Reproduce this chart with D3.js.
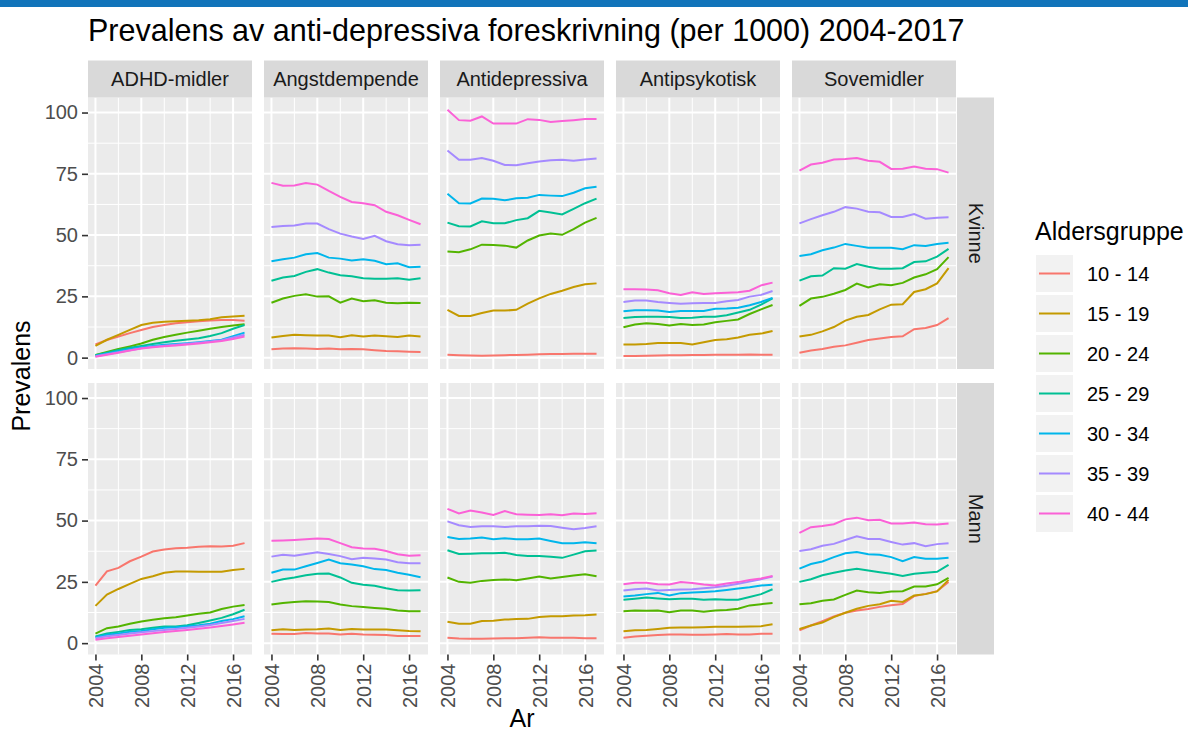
<!DOCTYPE html>
<html>
<head>
<meta charset="utf-8">
<script src="https://d3js.org/d3.v7.min.js"></script>
<style>
  body { margin: 0; background: #ffffff; }
  svg { display: block; font-family: "Liberation Sans", Arial, sans-serif; }
  .tick text { fill: #4d4d4d; font-size: 20px; }
  .tick line { stroke: #333333; stroke-width: 1.6; }
  .domain { display: none; }
</style>
</head>
<body>
<svg id="chart" width="1188" height="733"></svg>
<script>
  const years = d3.range(2004, 2018);
  const groups = ["10 - 14", "15 - 19", "20 - 24", "25 - 29", "30 - 34", "35 - 39", "40 - 44"];
  const colors = ["#F8766D", "#C49A00", "#53B400", "#00C094", "#00B6EB", "#A58AFF", "#FB61D7"];
  const categories = ["ADHD-midler", "Angstdempende", "Antidepressiva", "Antipsykotisk", "Sovemidler"];
  const sexes = ["Kvinne", "Mann"];
  const yTicks = [0, 25, 50, 75, 100];
  const xTicks = [2004, 2008, 2012, 2016];

  // one row per age group, 2004..2017
  const adhdKvinne = [
    [5.4, 7.2, 8.6, 10, 11.3, 12.5, 13.3, 14, 14.4, 14.8, 15.2, 15.4, 15.4, 15.1],
    [4.8, 7.3, 9.3, 11.3, 13.3, 14.2, 14.6, 14.8, 15.1, 15.3, 15.7, 16.5, 16.8, 17.1],
    [1.1, 2.3, 3.5, 4.6, 5.8, 7.3, 8.4, 9.3, 10.2, 11, 11.8, 12.5, 13.1, 13.6],
    [1.0, 2.0, 3.1, 4, 4.8, 5.6, 6.3, 6.9, 7.4, 7.9, 8.8, 10, 11.8, 13.3],
    [0.8, 1.7, 2.6, 3.5, 4.2, 4.8, 5.3, 5.6, 5.9, 6.3, 6.8, 7.3, 8.7, 10.2],
    [0.6, 1.4, 2.2, 3, 3.8, 4.4, 4.9, 5.3, 5.7, 6.1, 6.6, 7.1, 8.2, 9.3],
    [0.4, 1.2, 2, 2.9, 3.7, 4.2, 4.6, 5, 5.4, 5.8, 6.3, 6.8, 7.6, 8.6]
  ];
  const angstKvinne = [
    [3.4, 3.7, 3.8, 3.7, 3.5, 3.7, 3.4, 3.5, 3.4, 3, 2.7, 2.6, 2.4, 2.3],
    [8.2, 8.8, 9.3, 9.1, 9, 9, 8.3, 9.1, 8.6, 9, 8.7, 8.4, 9, 8.6],
    [22.4, 24.1, 25.2, 25.9, 24.9, 25, 22.4, 24.1, 23, 23.4, 22.4, 22.2, 22.4, 22.3],
    [31.4, 32.7, 33.3, 35, 36.1, 34.7, 33.6, 33.2, 32.4, 32.2, 32.2, 32.4, 31.8, 32.4],
    [39.3, 40.1, 40.8, 42.2, 42.7, 40.8, 40.4, 39.6, 40.1, 39.5, 38.1, 38.5, 36.9, 37.1],
    [53.3, 53.7, 53.9, 54.7, 54.7, 52.4, 50.6, 49.4, 48.4, 49.7, 47.5, 46.3, 45.9, 46.1],
    [71.3, 70.1, 70.2, 71.2, 70.6, 68, 65.6, 63.5, 63, 62.2, 59.5, 58.1, 56.2, 54.4]
  ];
  const antidepKvinne = [
    [1.2, 1.0, 0.9, 0.8, 0.9, 1.0, 1.1, 1.2, 1.4, 1.5, 1.5, 1.6, 1.6, 1.6],
    [19.5, 17, 17, 18.2, 19.2, 19.2, 19.5, 22, 24.2, 26, 27.3, 28.8, 29.9, 30.3],
    [43.3, 43, 44.2, 46.1, 46, 45.7, 44.9, 47.8, 49.8, 50.6, 50.1, 52.4, 55.1, 57],
    [55.1, 53.6, 53.5, 55.6, 54.8, 54.8, 56.1, 56.9, 59.9, 59.2, 58.4, 60.7, 63, 64.9],
    [66.9, 63, 62.9, 64.9, 64.8, 64.2, 65, 65.2, 66.4, 66.1, 65.9, 67.3, 69.1, 69.7],
    [84.5, 80.7, 80.7, 81.4, 80.3, 78.6, 78.5, 79.3, 80, 80.5, 80.7, 80.3, 80.8, 81.2],
    [101.1, 96.9, 96.7, 98.4, 95.5, 95.5, 95.5, 97.3, 97, 96.1, 96.5, 96.9, 97.4, 97.4]
  ];
  const antipsykKvinne = [
    [0.7, 0.7, 0.8, 0.9, 1.0, 1.0, 1.1, 1.1, 1.2, 1.2, 1.2, 1.3, 1.2, 1.2],
    [5.4, 5.4, 5.6, 6, 6, 6, 5.4, 6.3, 7.2, 7.5, 8.2, 9.3, 9.8, 10.9],
    [12.4, 13.5, 14, 13.7, 13.1, 13.7, 13.3, 13.5, 14.4, 15, 15.6, 17.8, 19.7, 21.5],
    [16.2, 16.6, 16.7, 16.7, 16.6, 16.2, 16.3, 16.7, 16.7, 17.3, 18.4, 19.5, 21.6, 24.2],
    [18.9, 19.3, 19.3, 19.2, 18.6, 19, 19, 19, 19.9, 20, 20.4, 21.4, 22.7, 24.4],
    [22.7, 23.3, 23.3, 22.7, 22.3, 22, 22.2, 22.3, 22.3, 23, 23.5, 24.9, 25.6, 27.2],
    [27.9, 27.9, 27.8, 27.5, 26.3, 25.6, 26.7, 26, 26.3, 26.5, 26.7, 27.3, 29.5, 30.6]
  ];
  const soveKvinne = [
    [2, 2.9, 3.5, 4.4, 5, 6.1, 7.2, 7.8, 8.4, 8.7, 11.6, 12.1, 13.3, 16.1],
    [8.6, 9.3, 10.7, 12.5, 15.1, 16.7, 17.4, 19.7, 21.6, 21.8, 26.8, 27.9, 30.3, 36.5],
    [21.1, 24.1, 24.8, 26.1, 27.6, 30.2, 28.6, 29.9, 29.5, 30.5, 32.7, 34, 36.1, 41],
    [31.4, 33.2, 33.5, 36.5, 36.3, 38.2, 37.1, 36.3, 36.3, 36.5, 39, 39.3, 41.2, 44.4],
    [41.5, 42.2, 43.8, 44.9, 46.4, 45.6, 44.8, 44.8, 44.8, 44.2, 45.9, 45.6, 46.4, 46.9],
    [54.8, 56.5, 58.1, 59.5, 61.4, 60.8, 59.5, 59.3, 57.4, 57.4, 58.6, 56.7, 57.1, 57.3],
    [76.3, 78.8, 79.5, 80.8, 81, 81.4, 80.3, 79.9, 77, 77.1, 78, 77.1, 76.9, 75.5]
  ];
  const adhdMann = [
    [23.5, 29.3, 30.7, 33.4, 35.3, 37.4, 38.2, 38.7, 38.9, 39.3, 39.5, 39.4, 39.7, 40.8],
    [15.2, 19.8, 22.1, 24.2, 26.2, 27.3, 28.7, 29.2, 29.2, 29.1, 29.1, 29.1, 29.8, 30.3],
    [3.9, 6.1, 6.8, 7.9, 8.8, 9.5, 10.2, 10.6, 11.3, 12, 12.5, 13.9, 14.9, 15.6],
    [2.7, 3.9, 4.6, 5.4, 5.7, 6.3, 6.8, 6.8, 7.3, 8.2, 9.2, 10.3, 11.8, 13.6],
    [2.4, 3.4, 3.9, 4.6, 5, 5.7, 6.3, 6.5, 6.9, 7.3, 7.9, 9, 9.8, 11],
    [2, 2.8, 3.3, 3.9, 4.4, 4.9, 5.4, 5.8, 6.3, 6.8, 7.4, 8.2, 9, 9.9],
    [1.4, 2, 2.5, 3, 3.5, 4, 4.5, 5, 5.4, 5.9, 6.4, 7, 7.6, 8.3]
  ];
  const angstMann = [
    [3.8, 3.7, 3.7, 4.1, 3.9, 3.9, 3.5, 3.8, 3.5, 3.4, 3.3, 2.9, 2.9, 2.9],
    [5.3, 5.7, 5.4, 5.6, 5.7, 6, 5.4, 5.8, 5.6, 5.6, 5.6, 5.3, 5, 4.9],
    [15.8, 16.4, 16.8, 17.1, 17, 16.8, 15.8, 15.1, 14.7, 14.3, 14, 13.3, 13, 13],
    [25, 26.1, 26.8, 27.7, 28.3, 28.4, 26.8, 24.6, 23.8, 23.4, 22.4, 21.6, 21.5, 21.6],
    [28.7, 30, 30, 31.4, 32.7, 34.1, 32.6, 32.1, 31.4, 30.2, 29.8, 28.7, 27.9, 26.9],
    [35.3, 36.1, 35.7, 36.4, 37.1, 36.4, 35.5, 34.2, 34.8, 34.5, 34.1, 33, 32.6, 32.6],
    [41.8, 41.9, 42.1, 42.4, 42.7, 42.5, 40.8, 39.1, 38.6, 38.5, 37.6, 36.3, 35.7, 35.9]
  ];
  const antidepMann = [
    [2.2, 1.9, 1.8, 1.8, 1.9, 2, 2, 2.2, 2.4, 2.2, 2.2, 2.2, 2, 2],
    [8.7, 7.9, 7.9, 9, 9.1, 9.6, 9.8, 9.9, 10.7, 11, 11, 11.3, 11.4, 11.7],
    [26.8, 25, 24.6, 25.4, 25.8, 26, 25.7, 26.4, 27.2, 26.4, 27, 27.6, 28.1, 27.3],
    [37.9, 36.4, 36.5, 36.7, 36.7, 36.9, 36, 35.6, 35.6, 35.2, 34.8, 36.1, 37.5, 37.8],
    [43.3, 42.5, 42.7, 43.1, 42.4, 42.8, 42.4, 42.4, 42.7, 41.7, 40.8, 40.8, 41.2, 40.8],
    [49.7, 48.1, 47.4, 47.7, 47.7, 47.4, 47.7, 47.7, 47.9, 47.8, 47.1, 46.5, 47, 47.7],
    [54.8, 52.9, 54.1, 53.3, 52.3, 53.9, 52.6, 52.4, 52.3, 52.6, 52.2, 52.9, 52.7, 53]
  ];
  const antipsykMann = [
    [2.2, 2.7, 3, 3.3, 3.5, 3.5, 3.4, 3.4, 3.5, 3.7, 3.5, 3.5, 3.8, 3.8],
    [4.9, 5.3, 5.4, 5.8, 6.3, 6.4, 6.4, 6.5, 6.7, 6.7, 6.7, 6.8, 6.9, 7.7],
    [13, 13.3, 13.2, 13.3, 12.6, 13.3, 13.3, 12.8, 13.3, 13.5, 14, 15.4, 15.9, 16.4],
    [17.7, 18.1, 18.6, 18.2, 17.9, 18.1, 18.1, 17.7, 17.9, 17.7, 17.7, 18.8, 20, 22],
    [19, 19.4, 20, 20.5, 19.4, 20.4, 20.7, 20.9, 21.2, 21.7, 22.3, 22.8, 23.5, 23.8],
    [21.5, 22, 22.3, 21.5, 21.7, 21.9, 22, 22.4, 22.8, 23.4, 24.2, 25.1, 26.1, 27.2],
    [24, 24.6, 24.6, 24, 23.9, 24.9, 24.5, 23.9, 23.5, 24.3, 24.9, 25.8, 26.4, 27.4]
  ];
  const soveMann = [
    [5.2, 7.2, 9, 10.9, 12.4, 13.3, 13.9, 14.8, 15.5, 16, 19.2, 20.1, 21.2, 25],
    [5.8, 7.2, 8.4, 10.6, 12.4, 14, 15.2, 15.9, 17.3, 16.8, 19.4, 20, 21.1, 25.8],
    [15.9, 16.3, 17.3, 17.8, 19.7, 21.5, 20.8, 20.5, 21.1, 21.2, 23.1, 23.1, 24, 26.6],
    [25, 26.1, 27.7, 28.7, 29.6, 30.3, 29.6, 28.9, 28.3, 27.4, 28.3, 28.7, 29.1, 31.9],
    [30.4, 32.3, 33.3, 35.1, 36.7, 37.2, 36.3, 36.1, 35.1, 33.4, 35.1, 34.4, 34.4, 34.8],
    [37.6, 38.3, 39.7, 40.5, 42.1, 43.6, 42.5, 42.5, 41.3, 40.2, 40.8, 39.5, 40.4, 40.8],
    [45, 47.3, 47.8, 48.5, 50.5, 51.2, 50.1, 50.3, 48.8, 48.8, 49.2, 48.5, 48.4, 48.8]
  ];

  const panelData = {
    "ADHD-midler": { Kvinne: adhdKvinne, Mann: adhdMann },
    "Angstdempende": { Kvinne: angstKvinne, Mann: angstMann },
    "Antidepressiva": { Kvinne: antidepKvinne, Mann: antidepMann },
    "Antipsykotisk": { Kvinne: antipsykKvinne, Mann: antipsykMann },
    "Sovemidler": { Kvinne: soveKvinne, Mann: soveMann }
  };

  const svg = d3.select("#chart");

  // layout
  const left = 88, panelW = 164, panelGap = 12;
  const rowTops = [97.5, 383];
  const panelH = 271.5;
  const stripSize = 37;

  // shared scales with ggplot-style 5% expansion
  const allVals = Object.values(panelData).flatMap(p => [p.Kvinne, p.Mann]).flat(2);
  const [vmin, vmax] = d3.extent(allVals);
  const vpad = (vmax - vmin) * 0.05;
  const xpad = (years[years.length - 1] - years[0]) * 0.05;

  const x = d3.scaleLinear()
    .domain([years[0] - xpad, years[years.length - 1] + xpad])
    .range([0, panelW]);
  const y = d3.scaleLinear()
    .domain([vmin - vpad, vmax + vpad])
    .range([panelH, 0]);

  const line = d3.line()
    .x((d, i) => x(years[i]))
    .y(d => y(d));

  svg.append("rect")
    .attr("x", 0).attr("y", 0)
    .attr("width", 1188).attr("height", 7)
    .attr("fill", "#1174ba");

  svg.append("text")
    .attr("x", left).attr("y", 41)
    .attr("font-size", 30.5)
    .attr("fill", "#000")
    .text("Prevalens av anti-depressiva foreskrivning (per 1000) 2004-2017");

  const minorY = [12.5, 37.5, 62.5, 87.5];
  const minorX = [2006, 2010, 2014];

  sexes.forEach((sex, r) => {
    categories.forEach((cat, c) => {
      const g = svg.append("g")
        .attr("transform", `translate(${left + c * (panelW + panelGap)},${rowTops[r]})`);

      g.append("rect")
        .attr("width", panelW).attr("height", panelH)
        .attr("fill", "#ebebeb");

      g.selectAll(".minor-y").data(minorY).join("line")
        .attr("x1", 0).attr("x2", panelW)
        .attr("y1", d => y(d)).attr("y2", d => y(d))
        .attr("stroke", "#fff").attr("stroke-width", 1);
      g.selectAll(".minor-x").data(minorX).join("line")
        .attr("y1", 0).attr("y2", panelH)
        .attr("x1", d => x(d)).attr("x2", d => x(d))
        .attr("stroke", "#fff").attr("stroke-width", 1);
      g.selectAll(".major-y").data(yTicks).join("line")
        .attr("x1", 0).attr("x2", panelW)
        .attr("y1", d => y(d)).attr("y2", d => y(d))
        .attr("stroke", "#fff").attr("stroke-width", 2);
      g.selectAll(".major-x").data(xTicks).join("line")
        .attr("y1", 0).attr("y2", panelH)
        .attr("x1", d => x(d)).attr("x2", d => x(d))
        .attr("stroke", "#fff").attr("stroke-width", 2);

      g.selectAll(".series").data(panelData[cat][sex]).join("path")
        .attr("d", line)
        .attr("fill", "none")
        .attr("stroke", (d, i) => colors[i])
        .attr("stroke-width", 2);

      if (c === 0) {
        g.append("g")
          .call(d3.axisLeft(y).tickValues(yTicks).tickSize(6).tickPadding(4));
      }
      if (r === sexes.length - 1) {
        const ax = g.append("g")
          .attr("transform", `translate(0,${panelH})`)
          .call(d3.axisBottom(x).tickValues(xTicks).tickFormat(d3.format("d")).tickSize(6));
        ax.selectAll("text")
          .attr("transform", "rotate(-90)")
          .attr("text-anchor", "end")
          .attr("x", -9).attr("y", 0)
          .attr("dy", "0.35em");
      }

      // top strips
      if (r === 0) {
        svg.append("rect")
          .attr("x", left + c * (panelW + panelGap)).attr("y", rowTops[0] - stripSize)
          .attr("width", panelW).attr("height", stripSize)
          .attr("fill", "#d9d9d9");
        svg.append("text")
          .attr("x", left + c * (panelW + panelGap) + panelW / 2)
          .attr("y", rowTops[0] - stripSize / 2)
          .attr("dy", "0.35em")
          .attr("text-anchor", "middle")
          .attr("font-size", 20)
          .attr("fill", "#1a1a1a")
          .text(cat);
      }
    });

    // right strips
    const sx = left + categories.length * (panelW + panelGap) - panelGap;
    svg.append("rect")
      .attr("x", sx + 1).attr("y", rowTops[r])
      .attr("width", stripSize).attr("height", panelH)
      .attr("fill", "#d9d9d9");
    svg.append("text")
      .attr("transform", `translate(${sx + 1 + stripSize / 2},${rowTops[r] + panelH / 2}) rotate(90)`)
      .attr("dy", "0.35em")
      .attr("text-anchor", "middle")
      .attr("font-size", 20)
      .attr("fill", "#1a1a1a")
      .text(sex);
  });

  // axis titles
  svg.append("text")
    .attr("transform", `translate(30,${(rowTops[0] + rowTops[1] + panelH) / 2}) rotate(-90)`)
    .attr("text-anchor", "middle")
    .attr("font-size", 25)
    .text("Prevalens");
  svg.append("text")
    .attr("x", left + (categories.length * (panelW + panelGap) - panelGap) / 2)
    .attr("y", 727)
    .attr("text-anchor", "middle")
    .attr("font-size", 25)
    .text("Ar");

  // legend
  const legend = svg.append("g").attr("transform", "translate(1035,0)");
  legend.append("text")
    .attr("x", 0).attr("y", 240)
    .attr("font-size", 25)
    .text("Aldersgruppe");
  const keys = legend.selectAll(".key").data(groups).join("g")
    .attr("transform", (d, i) => `translate(1,${255 + i * 40})`);
  keys.append("rect")
    .attr("width", 37).attr("height", 37)
    .attr("fill", "#f2f2f2");
  keys.append("line")
    .attr("x1", 3).attr("x2", 34)
    .attr("y1", 18.5).attr("y2", 18.5)
    .attr("stroke", (d, i) => colors[i])
    .attr("stroke-width", 2);
  keys.append("text")
    .attr("x", 51).attr("y", 18.5)
    .attr("dy", "0.35em")
    .attr("font-size", 20)
    .attr("fill", "#000")
    .text(d => d);
</script>
</body>
</html>
